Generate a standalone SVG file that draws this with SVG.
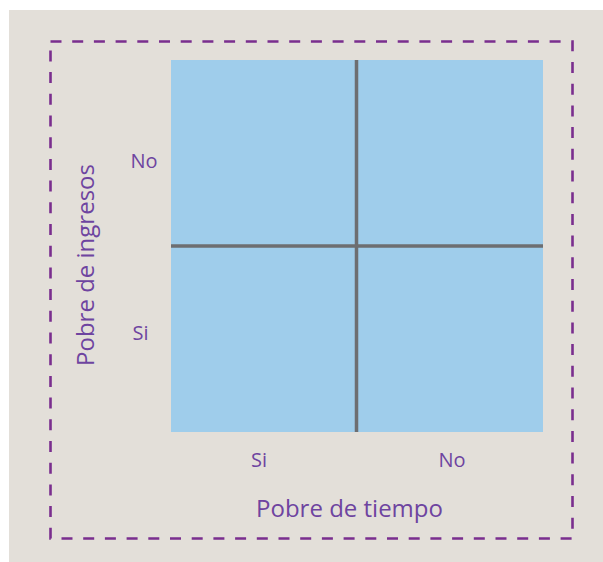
<svg xmlns="http://www.w3.org/2000/svg" width="603" height="562" viewBox="0 0 603 562">
  <style>
    .lbl { font-family: "Open Sans", "Noto Sans", "Liberation Sans", sans-serif; fill: #6E44A0; }
    .small { font-size: 20px; text-anchor: middle; }
    .axis { font-size: 24px; text-anchor: middle; }
    .grid { stroke: #6D6E71; stroke-width: 3.5; fill: none; }
  </style>
  <rect x="0" y="0" width="603" height="562" fill="#FFFFFF"/>
  <rect x="9" y="10" width="594" height="552" fill="#E3DFD9"/>
  <rect id="frame" x="50.5" y="41.5" width="522" height="497" fill="none" stroke="#7A2E8E" stroke-width="2.6" stroke-dasharray="11 10.7"/>
  <g id="matrix">
    <rect x="171" y="60" width="372" height="372" fill="#9FCDEB"/>
  </g>
  <g id="connectors">
    <line class="grid" x1="356.5" y1="60" x2="356.5" y2="432"/>
    <line class="grid" x1="171" y1="246" x2="543" y2="246"/>
  </g>
  <g id="labels">
    <text class="lbl small" x="144" y="167.5">No</text>
    <text class="lbl small" x="140.5" y="340">Si</text>
    <text class="lbl small" x="259" y="467">Si</text>
    <text class="lbl small" x="452" y="467">No</text>
    <text class="lbl axis" x="349.5" y="517">Pobre de tiempo</text>
    <text class="lbl axis" transform="translate(94,265) rotate(-90)" x="0" y="0">Pobre de ingresos</text>
  </g>
</svg>
